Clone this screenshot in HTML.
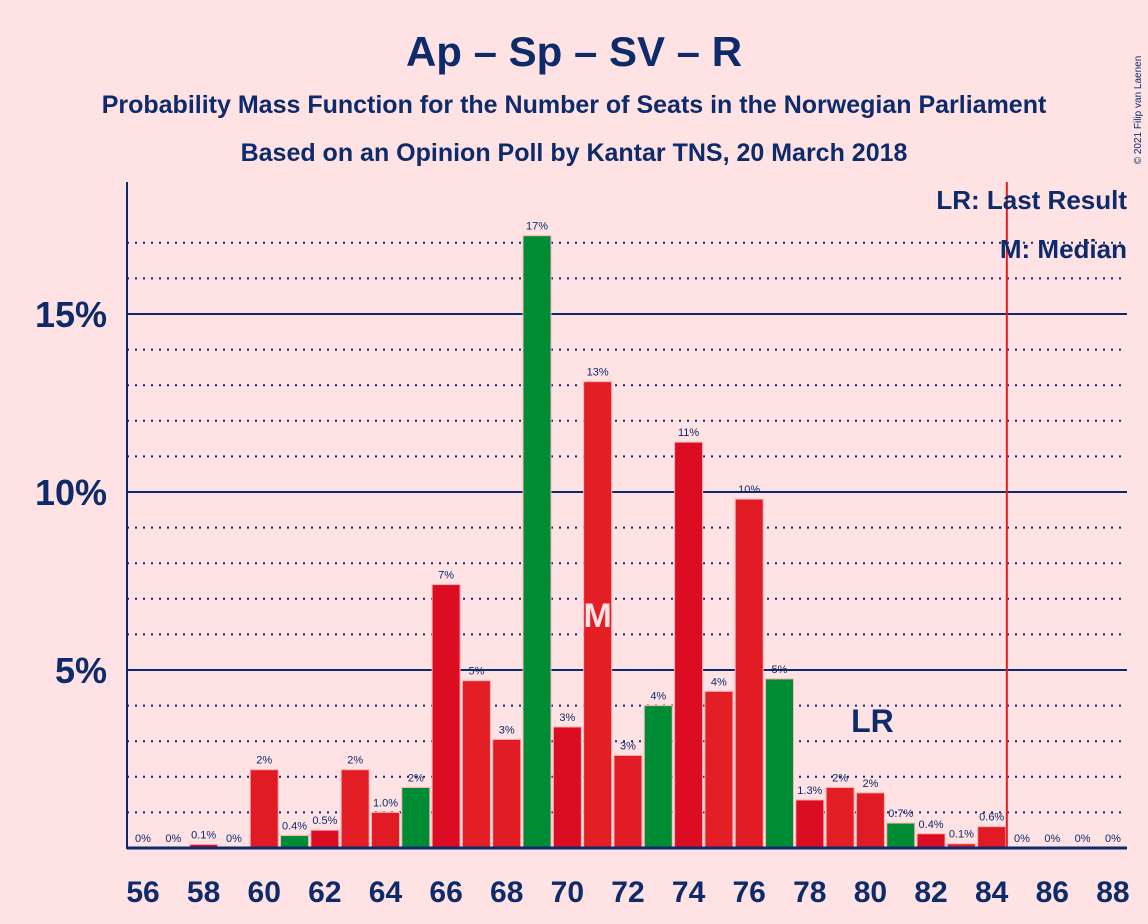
<!DOCTYPE html>
<html><head><meta charset="utf-8"><style>
body{margin:0;background:#ffe2e3;}
svg{display:block;font-family:"Liberation Sans",sans-serif;}
</style></head><body>
<svg width="1148" height="924" viewBox="0 0 1148 924">
<rect width="1148" height="924" fill="#ffe2e3"/>
<text x="574" y="66" text-anchor="middle" font-size="42" font-weight="bold" fill="#0d2a6b">Ap – Sp – SV – R</text>
<text x="574" y="113" text-anchor="middle" font-size="25" font-weight="bold" fill="#0d2a6b">Probability Mass Function for the Number of Seats in the Norwegian Parliament</text>
<text x="574" y="161" text-anchor="middle" font-size="25" font-weight="bold" fill="#0d2a6b">Based on an Opinion Poll by Kantar TNS, 20 March 2018</text>
<text x="1141" y="110" font-size="10" fill="#0d2a6b" transform="rotate(-90 1141 110)" text-anchor="middle">© 2021 Filip van Laenen</text>
<g id="grid"></g>
<g id="bars"></g>
<g id="axes"></g>
<text x="1127" y="209" text-anchor="end" font-size="26" font-weight="bold" fill="#0d2a6b">LR: Last Result</text>
<text x="1127" y="258" text-anchor="end" font-size="26" font-weight="bold" fill="#0d2a6b">M: Median</text>
</svg>
<script>
const seats=[56,57,58,59,60,61,62,63,64,65,66,67,68,69,70,71,72,73,74,75,76,77,78,79,80,81,82,83,84,85,86,87,88];
const probs=[0,0,0.1,0,2.2,0.35,0.5,2.2,1.0,1.7,7.4,4.7,3.05,17.2,3.4,13.1,2.6,4.0,11.4,4.4,9.8,4.75,1.35,1.7,1.55,0.7,0.4,0.12,0.6,0,0,0,0];
const labels=["0%","0%","0.1%","0%","2%","0.4%","0.5%","2%","1.0%","2%","7%","5%","3%","17%","3%","13%","3%","4%","11%","4%","10%","5%","1.3%","2%","2%","0.7%","0.4%","0.1%","0.6%","0%","0%","0%","0%"];
const yTicks=[5,10,15];
const yTickLabels=["5%","10%","15%"];
const medianSeat=71, lastResultSeat=80, majoritySeat=85;
const NS="http://www.w3.org/2000/svg";
const x0=143, dx=30.31, y0=848, py=35.6;
const X=s=>x0+(s-56)*dx, Y=p=>y0-p*py;
function mk(tag,attrs,parent,txt){const e=document.createElementNS(NS,tag);for(const k in attrs)e.setAttribute(k,attrs[k]);if(txt!==undefined)e.textContent=txt;parent.appendChild(e);return e;}
const grid=document.getElementById('grid'),bars=document.getElementById('bars'),axes=document.getElementById('axes');
for(let p=1;p<=17;p++){if(p%5===0)continue;const l=mk('line',{x1:127,x2:1127,y1:Y(p),y2:Y(p),stroke:'#0d2a6b','stroke-width':2,'stroke-dasharray':'2,6'},grid);

}
yTicks.forEach((t,i)=>{const l=mk('line',{x1:127,x2:1127,y1:Y(t),y2:Y(t),stroke:'#0d2a6b','stroke-width':2},grid);


const tx=mk('text',{x:107,y:Y(t)+13,'text-anchor':'end','font-size':36,'font-weight':'bold',fill:'#0d2a6b'},axes,yTickLabels[i]);

});
const cols=['#008c35','#dc0d23','#e31e25','#e01b24'];
seats.forEach((s,i)=>{const p=probs[i];const k=(((s-61)%4)+4)%4;const col=cols[k];
if(p>0){const r=mk('rect',{x:X(s)-14,y:Y(p),width:28,height:p*py,fill:col,stroke:'#ffb3b6','stroke-width':1},bars);

}
const t=mk('text',{x:X(s),y:Y(p)-6,'text-anchor':'middle','font-size':11,fill:'#0d2a6b'},bars,labels[i]);


if(s%2===0){const xl=mk('text',{x:X(s),y:902,'text-anchor':'middle','font-size':30,'font-weight':'bold',fill:'#0d2a6b'},axes,String(s));

}});
const mi=seats.indexOf(medianSeat);
const m=mk('text',{x:X(medianSeat),y:Y(probs[mi]*0.5)+12,'text-anchor':'middle','font-size':34,'font-weight':'bold',fill:'#ffe2e3'},bars,'M');


const li=seats.indexOf(lastResultSeat);
const lr=mk('text',{x:X(lastResultSeat)+2,y:Y(probs[li])-61,'text-anchor':'middle','font-size':32,'font-weight':'bold',fill:'#0d2a6b'},bars,'LR');


const mv=mk('line',{x1:X(majoritySeat-0.5),x2:X(majoritySeat-0.5),y1:182,y2:848,stroke:'#e31e25','stroke-width':2},axes);


const ya=mk('line',{x1:127,x2:127,y1:182,y2:849,stroke:'#0d2a6b','stroke-width':2},axes);


const xa=mk('line',{x1:127,x2:1127,y1:848,y2:848,stroke:'#0d2a6b','stroke-width':3},axes);


</script>
</body></html>
